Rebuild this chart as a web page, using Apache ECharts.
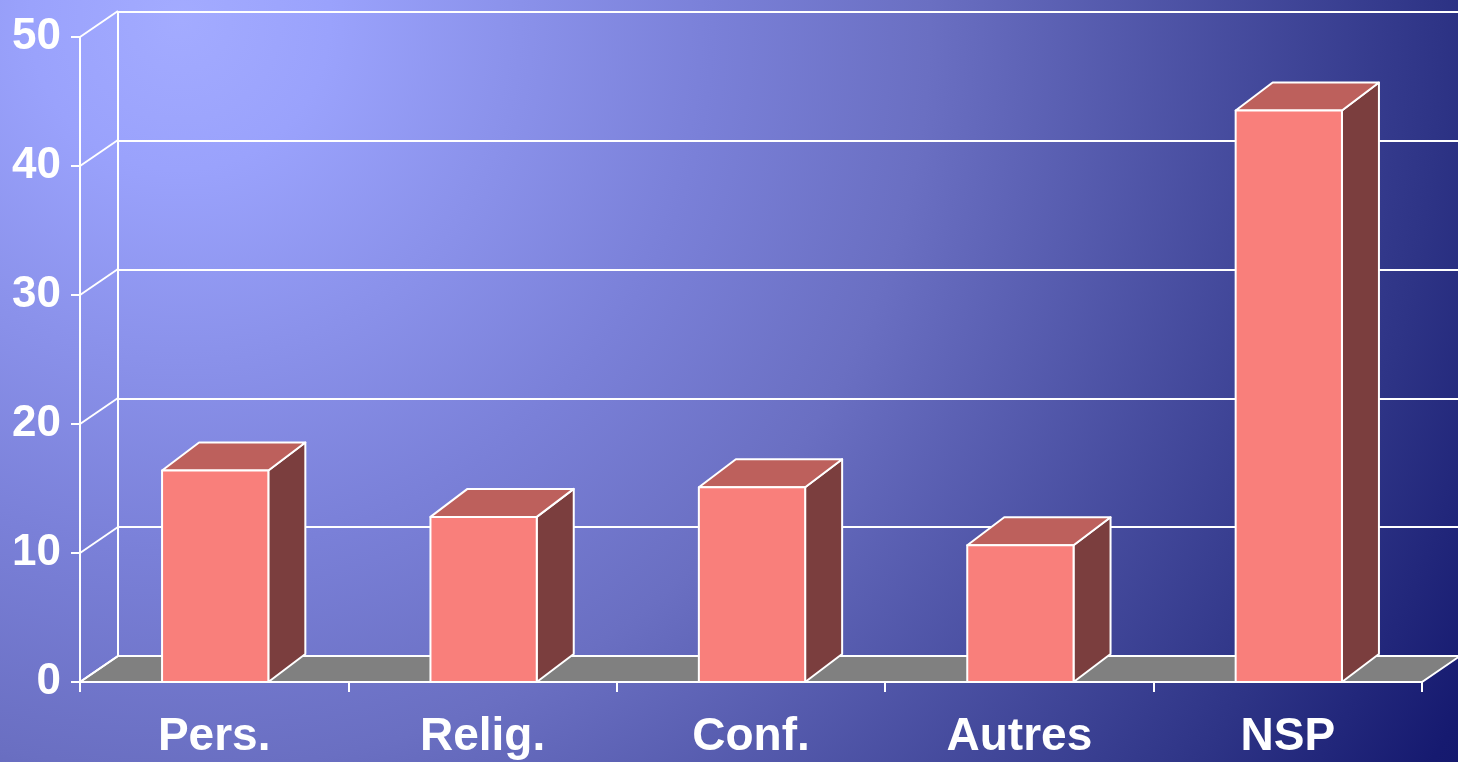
<!DOCTYPE html>
<html><head><meta charset="utf-8">
<script src="https://cdn.jsdelivr.net/npm/echarts@6/dist/echarts.min.js"></script>
<style>html,body{margin:0;padding:0;overflow:hidden;}#c{width:1458px;height:762px;}</style>
</head><body><div id="c"></div>
<script>
const categories = ['Pers.', 'Relig.', 'Conf.', 'Autres', 'NSP'];
const values = [16.4, 12.8, 15.1, 10.6, 44.3];
const yTicks = [0, 10, 20, 30, 40, 50];

const WALL_DX = 38, WALL_DY = -26;
const BAR_DX = 37, BAR_DY = -28;
const FONT = '"Liberation Sans", Arial, sans-serif';

const chart = echarts.init(document.getElementById('c'), null, {renderer: 'canvas'});

function floorItem(params, api) {
  const cs = params.coordSys;
  const y0 = api.coord([0, 0])[1];
  const x0 = cs.x, x1 = cs.x + cs.width;
  return {
    type: 'polygon',
    shape: {points: [[x0, y0], [x1, y0], [x1 + WALL_DX, y0 + WALL_DY], [x0 + WALL_DX, y0 + WALL_DY]]},
    style: {fill: '#808080', stroke: '#ffffff', lineWidth: 2}
  };
}

function connectorItem(params, api) {
  const cs = params.coordSys;
  const y = api.coord([0, api.value(1)])[1];
  return {
    type: 'line',
    shape: {x1: cs.x, y1: y, x2: cs.x + WALL_DX, y2: y + WALL_DY},
    style: {stroke: '#ffffff', lineWidth: 2}
  };
}

function barItem(params, api) {
  const i = api.value(0), v = api.value(1);
  const top = api.coord([i, v]);
  const base = api.coord([i, 0]);
  const w = api.size([1, 0])[0] * 0.396;
  const xl = top[0] - w / 2 + 1, xr = top[0] + w / 2 + 1;
  const yt = top[1], yb = base[1];
  const st = {stroke: '#ffffff', lineWidth: 2, lineJoin: 'round'};
  return {
    type: 'group',
    children: [
      {type: 'polygon', shape: {points: [[xr, yt], [xr + BAR_DX, yt + BAR_DY], [xr + BAR_DX, yb + BAR_DY], [xr, yb]]},
        style: Object.assign({fill: '#7b3e3e'}, st)},
      {type: 'polygon', shape: {points: [[xl, yt], [xl + BAR_DX, yt + BAR_DY], [xr + BAR_DX, yt + BAR_DY], [xr, yt]]},
        style: Object.assign({fill: '#bd605c'}, st)},
      {type: 'rect', shape: {x: xl, y: yt, width: w, height: yb - yt},
        style: Object.assign({fill: '#f97f7b'}, st)}
    ]
  };
}

const option = {
  animation: false,
  backgroundColor: {
    type: 'radial', x: 180, y: 20, r: 1500, global: true,
    colorStops: [
      {offset: 0, color: '#a3abff'},
      {offset: 0.1, color: '#9aa2fc'},
      {offset: 0.355, color: '#7a80d8'},
      {offset: 0.5, color: '#6a6fc2'},
      {offset: 0.84, color: '#2e3486'},
      {offset: 0.97, color: '#161a70'},
      {offset: 1, color: '#14186c'}
    ]
  },
  grid: [
    {left: 80, right: 36, top: 37, bottom: 80, containLabel: false},
    {left: 118, right: 0, top: 12, bottom: 106, containLabel: false}
  ],
  xAxis: [
    {
      type: 'category', gridIndex: 0, data: categories, boundaryGap: true,
      axisLine: {show: true, lineStyle: {color: '#ffffff', width: 2}},
      axisTick: {show: true, length: 10, lineStyle: {color: '#ffffff', width: 2}},
      axisLabel: {color: '#ffffff', fontFamily: FONT, fontWeight: 'bold', fontSize: 46, margin: 32},
      splitLine: {show: false}
    },
    {
      type: 'category', gridIndex: 1, data: categories, show: false
    }
  ],
  yAxis: [
    {
      type: 'value', gridIndex: 0, min: 0, max: 50, interval: 10,
      axisLine: {show: true, lineStyle: {color: '#ffffff', width: 2}},
      axisTick: {show: true, length: 9, lineStyle: {color: '#ffffff', width: 2}},
      axisLabel: {color: '#ffffff', fontFamily: FONT, fontWeight: 'bold', fontSize: 44, margin: 19},
      splitLine: {show: false}
    },
    {
      type: 'value', gridIndex: 1, min: 0, max: 50, interval: 10,
      axisLine: {show: true, lineStyle: {color: '#ffffff', width: 2}},
      axisTick: {show: false},
      axisLabel: {show: false},
      splitLine: {show: true, lineStyle: {color: '#ffffff', width: 2}}
    }
  ],
  series: [
    {
      type: 'custom', xAxisIndex: 0, yAxisIndex: 0, z: 1, silent: true,
      renderItem: floorItem, data: [[0, 0]], encode: {x: 0, y: 1}
    },
    {
      type: 'custom', xAxisIndex: 0, yAxisIndex: 0, z: 1, silent: true,
      renderItem: connectorItem, data: yTicks.map(v => [0, v]), encode: {x: 0, y: 1}
    },
    {
      type: 'custom', xAxisIndex: 0, yAxisIndex: 0, z: 3, silent: true,
      renderItem: barItem, data: values.map((v, i) => [i, v]), encode: {x: 0, y: 1}
    }
  ]
};
chart.setOption(option);
</script>
</body></html>
